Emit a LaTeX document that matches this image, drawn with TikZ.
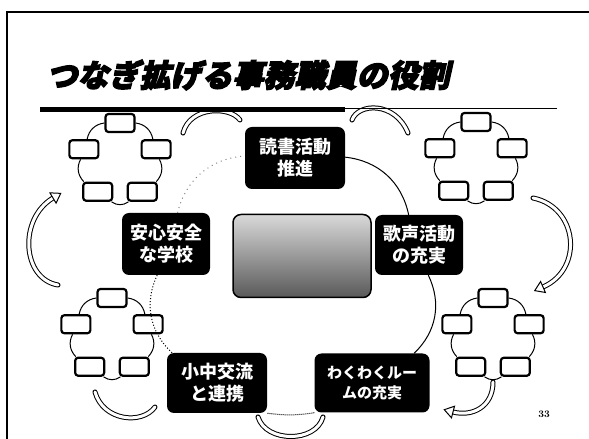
\documentclass[tikz,border=0pt]{standalone}
\usepackage{fontspec}
\newfontfamily\cjk{Noto Sans CJK JP}
\newfontfamily\titlefont[FakeSlant=0.22,BoldFeatures={FakeSlant=0.22,FakeBold=4}]{Noto Sans CJK JP}
\usetikzlibrary{calc}

\tikzset{
  goal/.style={fill=black, rounded corners=7pt, text=white, align=center, inner sep=0pt,
    font=\cjk\bfseries\fontsize{18}{22}\selectfont},
  member/.style={draw, line width=2.2pt, rounded corners=3pt, fill=white,
    minimum width=29pt, minimum height=18pt, inner sep=0pt},
  photo/.style={draw, line width=1.5pt, rounded corners=8pt, minimum width=138pt, minimum height=83pt,
    top color=black!15, middle color=black!80, bottom color=black!65},
  ring/.style={line width=1pt},
  band/.style={line width=1pt, double=white, double distance=3pt, line cap=round},
  tiphead/.style={line width=1pt, fill=white, line join=miter},
}

\begin{document}
\begin{tikzpicture}[x=1pt,y=1pt]
  \useasboundingbox (0,0) rectangle (589,439);
  % frame and title
  \draw[line width=1.5pt] (7,0) -- (7,427) -- (589,427);
  \node (title) at (248,364) {\titlefont\bfseries\fontsize{31}{31}\selectfont つなぎ拡げる事務職員の役割};

  % groups of five
  \foreach \c/\px/\py in {tl/120/278, tr/476/279, bl/112/103, br/493/103} {
    \coordinate (\c) at (\px,\py);
    \foreach \k/\a in {1/90, 2/18, 3/-54, 4/-126, 5/-198}
      \node[member] (\c\k) at ([shift={(\a:38)}]\c) {};
    \foreach \k/\n in {1/2, 2/3, 3/4, 4/5, 5/1}
      \draw[ring] (\c\k) to[bend left=36] (\c\n);
  }

  % hollow arrows between the groups
  \coordinate (a1) at (183,306);
  \coordinate (a2) at (240,319);
  \draw[band] (a1) .. controls (190,333) and (230,333) .. (a2);
  \coordinate (a3) at (352,319);
  \coordinate (a4) at (408,306);
  \draw[band] (a3) .. controls (358,336) and (395,338) .. (a4);

  \coordinate (a5) at (533,241);
  \coordinate (a6c) at (584,170);
  \coordinate (a6) at (543,152);
  \draw[band] (a5) .. controls (578,232) and (a6c) .. (a6);
  \draw[tiphead] ($(a6)!6pt!90:(a6c)$) -- ($(a6)!-9pt!(a6c)$) -- ($(a6)!6pt!-90:(a6c)$) -- cycle;

  \coordinate (a7) at (493,57);
  \coordinate (a8c) at (472,22);
  \coordinate (a8) at (453,27);
  \draw[band] (a7) .. controls (493,32) and (a8c) .. (a8);
  \draw[tiphead] ($(a8)!6pt!90:(a8c)$) -- ($(a8)!-9pt!(a8c)$) -- ($(a8)!6pt!-90:(a8c)$) -- cycle;

  \coordinate (a9) at (258,22);
  \coordinate (a10) at (323,22);
  \draw[band] (a9) .. controls (266,-4) and (316,-4) .. (a10);
  \coordinate (a11) at (95,47);
  \coordinate (a12) at (155,32);
  \draw[band] (a11) .. controls (103,18) and (142,14) .. (a12);

  \coordinate (a13) at (58,154);
  \coordinate (a14c) at (18,220);
  \coordinate (a14) at (53,241);
  \draw[band] (a13) .. controls (22,160) and (a14c) .. (a14);
  \draw[tiphead] ($(a14)!6pt!90:(a14c)$) -- ($(a14)!-9pt!(a14c)$) -- ($(a14)!6pt!-90:(a14c)$) -- cycle;

  % title bar
  \draw[line width=5pt] (40,329) -- (345,329);
  \draw[line width=1.2pt] (345,330.5) -- (557,330.5);

  % the five aims round the centre
  \node[goal, minimum width=100pt, minimum height=62pt] (dokusho) at (295,281) {読書活動\\推進};
  \node[goal, minimum width=88pt, minimum height=62pt] (anshin) at (166,195) {安心安全\\な学校};
  \node[goal, minimum width=88pt, minimum height=60pt] (kasei) at (419,194) {歌声活動\\の充実};
  \node[goal, minimum width=100pt, minimum height=60pt] (shochu) at (217,56) {小中交流\\と連携};
  \node[goal, minimum width=115pt, minimum height=59pt,
    font=\cjk\bfseries\fontsize{15}{20}\selectfont] (waku) at (372,56) {わくわくルー\\ムの充実};
  \node[photo] (photo) at (302,183) {};

  \draw[ring] (dokusho) to[bend left=36] (kasei);
  \draw[ring] (kasei) to[bend left=36] (waku);
  \draw[ring, densely dotted] (waku.south west) to[bend left=8] (shochu.south east);
  \draw[ring, dotted] (shochu) to[bend left=36] (anshin);
  \draw[ring, loosely dotted, gray] (anshin) to[bend left=36] (dokusho);

  \node[font=\bfseries\fontsize{10}{10}\selectfont] (page) at (544,25) {33};
\end{tikzpicture}
\end{document}
